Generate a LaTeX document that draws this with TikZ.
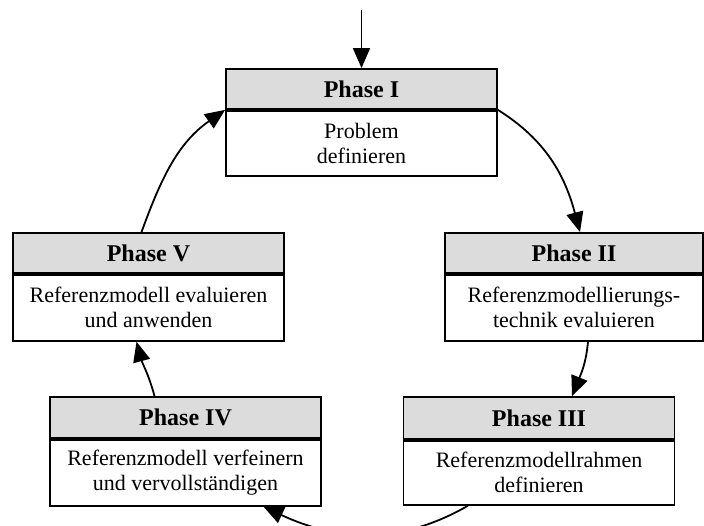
\documentclass[tikz,border=0pt]{standalone}
\usepackage{fontspec}
\setmainfont{Liberation Serif}
\usepackage{xcolor}
\usepackage{tikz}
\usetikzlibrary{positioning,arrows.meta}
\definecolor{PhGray}{HTML}{DCDCDC}
\definecolor{PhLine}{HTML}{000000}

\tikzset{
  phhead/.style={draw=PhLine,fill=PhGray,line width=1.8pt,minimum width=271pt,minimum height=40pt,
    inner sep=0pt,font=\fontsize{24}{28}\selectfont\bfseries},
  phbody/.style={draw=PhLine,fill=white,line width=1.8pt,minimum width=271pt,minimum height=65pt,
    inner sep=0pt,align=center,font=\fontsize{22}{25}\selectfont},
  flow/.style={line width=1.8pt,-{Triangle[length=20pt,width=17pt]}}
}

\begin{document}
\begin{tikzpicture}[x=1pt,y=1pt]
\path[use as bounding box] (0,0) rectangle (704,526);
% phases
\node[phhead] (ph1head) at (361.5,437) {Phase I};
\node[phbody,below=0pt of ph1head] (ph1body) {Problem\\definieren};
\node[phhead,minimum width=258pt] (ph2head) at (574,273) {Phase II};
\node[phbody,minimum width=258pt,minimum height=66pt,below=0pt of ph2head] (ph2body) {Referenzmodellierungs-\\technik evaluieren};
\node[phhead,minimum height=42pt] (ph3head) at (539,108) {Phase III};
\node[phbody,minimum height=64pt,below=0pt of ph3head] (ph3body) {Referenzmodellrahmen\\definieren};
\node[phhead,minimum height=41pt] (ph4head) at (185.5,108.5) {Phase IV};
\node[phbody,minimum height=66pt,below=0pt of ph4head] (ph4body) {Referenzmodell verfeinern\\und vervollst\"andigen};
\node[phhead] (ph5head) at (148.5,273) {Phase V};
\node[phbody,minimum height=66pt,below=0pt of ph5head] (ph5body) {Referenzmodell evaluieren\\und anwenden};
% cycle
\coordinate (start) at (361.5,516);
\draw[flow] (start) -- (ph1head.north);
\draw[flow] (ph1body.north east) to[out=-32,in=105] ([xshift=6pt]ph2head.north);
\draw[flow] ([xshift=14pt]ph2body.south) to[out=-95,in=68] ([xshift=33pt]ph3head.north);
\draw[flow] ([xshift=-71pt]ph3body.south) to[out=-150,in=-25] ([xshift=78pt]ph4body.south);
\draw[flow] ([xshift=-31pt]ph4head.north) to[out=105,in=-75] ([xshift=-12pt]ph5body.south);
\draw[flow] ([xshift=-7pt]ph5head.north) to[out=70,in=-145] (ph1body.north west);
\end{tikzpicture}
\end{document}
